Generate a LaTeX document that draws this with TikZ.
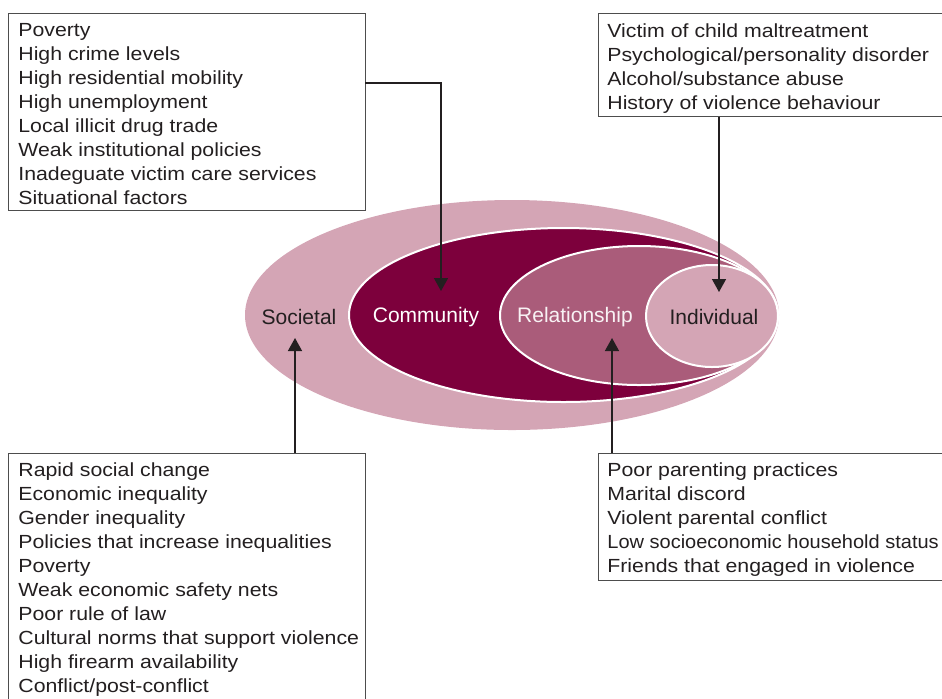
\documentclass[tikz,border=0pt]{standalone}
\usepackage{fontspec}
\setmainfont{Liberation Sans}
\newfontfamily\listfont{Liberation Sans}[FakeStretch=1.12]
\usepackage{xcolor}
\usetikzlibrary{arrows.meta}
\definecolor{outerpink}{HTML}{D4A5B5}
\definecolor{commred}{HTML}{7D003C}
\definecolor{relrose}{HTML}{AA5C7A}
\definecolor{inkgray}{HTML}{231F20}
\definecolor{framegray}{HTML}{4D4D4D}
\tikzset{
  listbox/.style={draw=framegray, line width=0.6pt, anchor=north west, inner sep=0pt},
  listtext/.style={anchor=north west, inner sep=0pt, align=left, text=inkgray,
    font=\listfont\fontsize{9.5}{12}\selectfont},
  level/.style={inner sep=0pt, font=\fontsize{10.5}{12}\selectfont},
  link/.style={draw=inkgray, line width=0.7pt, -{Triangle[width=7pt,length=6.5pt]}},
  ring/.style={draw=white, line width=1pt}
}

\begin{document}
\begin{tikzpicture}[x=0.5pt, y=-0.5pt]
        \useasboundingbox (0,0) rectangle (942,698);

        % nested levels
        \fill[outerpink] (512,315) ellipse [x radius=267, y radius=115];
        \filldraw[ring, fill=commred] (563.5,315) ellipse [x radius=214.5, y radius=87];
        \filldraw[ring, fill=relrose] (639,315.5) ellipse [x radius=139, y radius=69.5];
        \filldraw[ring, fill=outerpink] (712,316) ellipse [x radius=66, y radius=51];

        \node[level, text=inkgray] (soc) at (299,317) {Societal};
        \node[level, text=white] (comm) at (426,317) {Community};
        \node[level, text=white!92!relrose] (rel) at (575,317) {Relationship};
        \node[level, text=inkgray] (ind) at (714,317) {Individual};

        % factor lists
        \node[listbox, minimum width=178.5pt, minimum height=98.5pt] (commbox) at (8,13) {};
        \node[listtext] (commlist) at (18,23) {Poverty\\High crime levels\\High residential mobility\\High unemployment\\Local illicit drug trade\\Weak institutional policies\\Inadeguate victim care services\\Situational factors};

        \node[listbox, minimum width=180pt, minimum height=51.5pt] (indbox) at (598,13) {};
        \node[listtext] (indlist) at (607,23) {Victim of child maltreatment\\Psychological/personality disorder\\Alcohol/substance abuse\\History of violence behaviour};

        \node[listbox, minimum width=178.5pt, minimum height=130pt] (socbox) at (8,453) {};
        \node[listtext] (soclist) at (18,462) {Rapid social change\\Economic inequality\\Gender inequality\\Policies that increase inequalities\\Poverty\\Weak economic safety nets\\Poor rule of law\\Cultural norms that support violence\\High firearm availability\\Conflict/post-conflict};

        \node[listbox, minimum width=180pt, minimum height=63.5pt] (relbox) at (598,453) {};
        \node[listtext] (rellist) at (607,462) {Poor parenting practices\\Marital discord\\Violent parental conflict\\\scalebox{0.94}[1]{Low socioeconomic household status}\\Friends that engaged in violence};

        % arrows into the levels
        \coordinate (commout) at (365,83);
        \coordinate (commtip) at (441,291);
        \coordinate (indtip) at (719,292);
        \coordinate (soctip) at (295,338);
        \coordinate (reltip) at (612,338);

        \draw[link] (commout) -| (commtip);
        \draw[link] (indbox.south -| indtip) -- (indtip);
        \draw[link] (socbox.north -| soctip) -- (soctip);
        \draw[link] (relbox.north -| reltip) -- (reltip);
      \end{tikzpicture}
\end{document}
